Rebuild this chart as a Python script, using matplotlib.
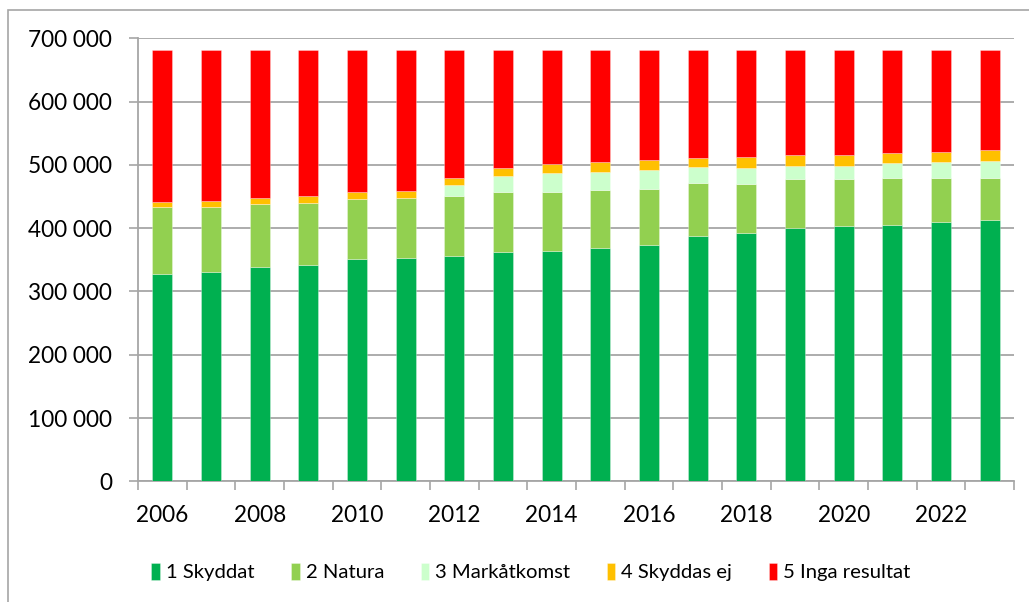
import matplotlib
matplotlib.use("Agg")
import matplotlib.pyplot as plt
from matplotlib.patches import Rectangle
from matplotlib.ticker import FuncFormatter, FixedLocator
import numpy as np

plt.rcParams['font.family'] = ['Lato', 'DejaVu Sans']

years = list(range(2006, 2024))
series_names = ["1 Skyddat", "2 Natura", "3 Markåtkomst", "4 Skyddas ej", "5 Inga resultat"]
colors = ["#00B050", "#92D050", "#CCFFCC", "#FFC000", "#FF0000"]

skyddat = [327000, 330600, 338000, 342200, 351700, 352300, 356400, 362700, 364300,
           368600, 373800, 388000, 392200, 400200, 403800, 405400, 410100, 412300]
natura = [105900, 103200, 99600, 97900, 94300, 94700, 94300, 94300, 92700,
          91100, 88400, 82700, 78000, 76900, 74200, 73300, 69500, 67300]
markatkomst = [0, 0, 0, 0, 0, 0, 17300, 24800, 29600,
               29400, 29600, 25300, 24700, 21500, 20600, 24100, 24300, 26900]
skyddas_ej = [8800, 9500, 10400, 10100, 10600, 12100, 11100, 13600, 14200,
              14900, 15800, 14700, 16900, 16900, 16900, 16300, 16800, 16900]
inga_resultat = [239300, 237700, 233000, 230800, 224400, 221900, 201900, 185600, 180200,
                 177000, 173400, 170300, 169200, 165500, 165500, 161900, 160300, 157600]

series = [skyddat, natura, markatkomst, skyddas_ej, inga_resultat]

fig = plt.figure(figsize=(10.29, 6.02), dpi=100)
ax = fig.add_axes([138 / 1029, 1 - 481.3 / 602, (1014 - 138) / 1029, (481.3 - 38.3) / 602])

x = np.arange(len(years))
bottom = np.zeros(len(years))
for name, vals, col in zip(series_names, series, colors):
    vals = np.array(vals, dtype=float)
    ax.bar(x, vals, width=0.41, bottom=bottom, color=col, label=name,
           edgecolor=(1, 1, 1, 0.35), linewidth=0.6, zorder=3)
    bottom += vals

ax.set_xlim(-0.5, len(years) - 0.5)
ax.set_ylim(0, 700000)
ax.set_yticks(np.arange(0, 700001, 100000))
ax.yaxis.set_major_formatter(FuncFormatter(lambda v, p: f"{int(v):,}".replace(",", " ")))
ax.grid(axis="y", color="#A6A6A6", linewidth=1.3, zorder=0)

# Year labels on every other bar, tick marks on category boundaries
ax.set_xticks(x[::2])
ax.set_xticklabels([str(y) for y in years[::2]])
ax.xaxis.set_minor_locator(FixedLocator(np.arange(-0.5, len(years), 1.0)))
ax.tick_params(axis="x", which="major", length=0, pad=17, labelsize=16.3)
ax.tick_params(axis="x", which="minor", length=6.5, width=1.2, color="#A6A6A6", direction="out")
ax.tick_params(axis="y", length=6.5, width=1.2, color="#A6A6A6", pad=12, labelsize=16.3)

for side in ("top", "right"):
    ax.spines[side].set_visible(False)
for side in ("left", "bottom"):
    ax.spines[side].set_color("#A6A6A6")
    ax.spines[side].set_linewidth(1.3)

# Chart-area border (left and top edges visible)
fig.patches.append(Rectangle((8 / 1029, -0.1), 1.2, 1 - 9.5 / 602 + 0.1, transform=fig.transFigure,
                             fill=False, edgecolor="#A6A6A6", linewidth=1.2))

handles, labels = ax.get_legend_handles_labels()
fig.legend(handles, labels, loc="center", bbox_to_anchor=(531 / 1029, 1 - 572 / 602), ncol=5,
           frameon=False, fontsize=14.6, handlelength=0.42, handleheight=0.95,
           handletextpad=0.3, columnspacing=1.8)

fig.savefig("out.png", dpi=100)
